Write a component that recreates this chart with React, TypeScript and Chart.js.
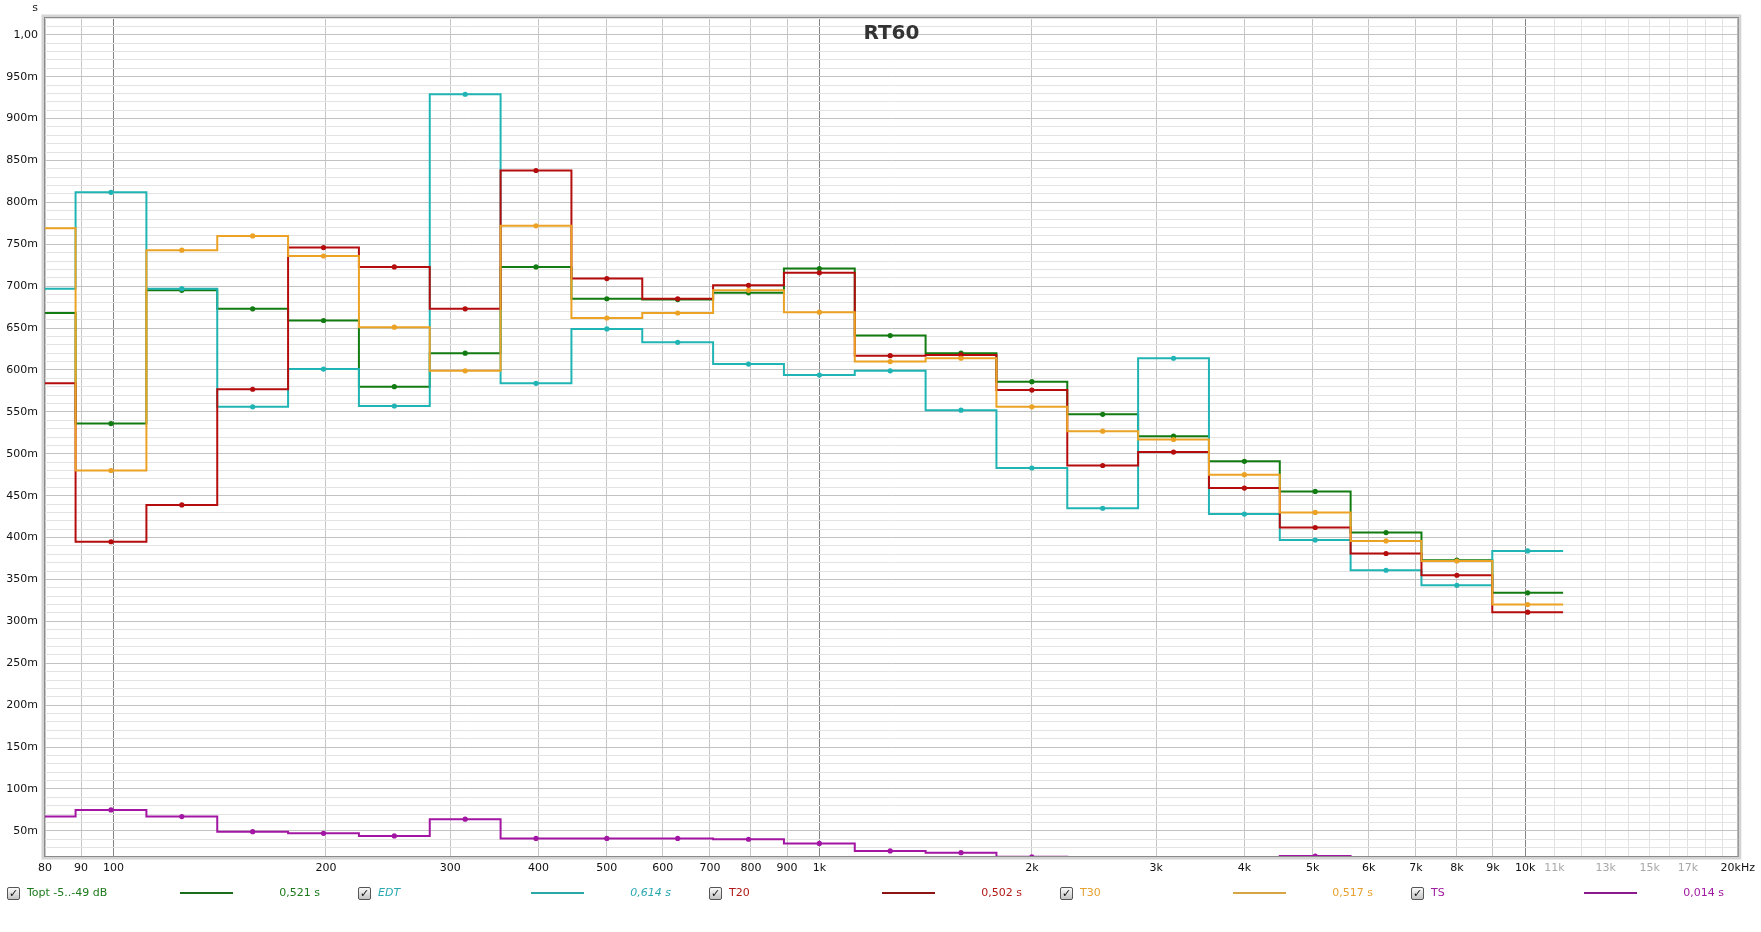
import React, { useEffect, useRef } from "react";
import { Chart, registerables } from "chart.js";
Chart.register(...registerables);

// 1/3-octave band centre frequencies (Hz)
const bandCenters = [78.75, 99.21, 125, 157.49, 198.43, 250, 314.98, 396.85, 500, 629.96, 793.7, 1000, 1259.9, 1587.4, 2000, 2519.8, 3174.8, 4000, 5039.7, 6349.6, 8000, 10079];

// RT60 values (s) per band
const toptValues = [0.668, 0.536, 0.695, 0.673, 0.659, 0.580, 0.620, 0.723, 0.685, 0.684, 0.692, 0.721, 0.641, 0.620, 0.586, 0.547, 0.521, 0.491, 0.455, 0.406, 0.373, 0.334];
const edtValues = [0.697, 0.812, 0.697, 0.556, 0.601, 0.557, 0.929, 0.584, 0.649, 0.633, 0.607, 0.594, 0.599, 0.552, 0.483, 0.435, 0.614, 0.428, 0.397, 0.361, 0.343, 0.384];
const t20Values = [0.584, 0.395, 0.439, 0.577, 0.746, 0.723, 0.673, 0.838, 0.709, 0.685, 0.701, 0.716, 0.617, 0.618, 0.576, 0.486, 0.502, 0.459, 0.412, 0.381, 0.355, 0.311];
const t30Values = [0.769, 0.480, 0.743, 0.760, 0.736, 0.651, 0.599, 0.772, 0.662, 0.668, 0.695, 0.669, 0.610, 0.614, 0.556, 0.527, 0.517, 0.475, 0.430, 0.396, 0.372, 0.320];
const tsValues = [0.067, 0.075, 0.067, 0.049, 0.047, 0.044, 0.064, 0.041, 0.041, 0.041, 0.040, 0.035, 0.026, 0.024, 0.019, 0.012, 0.010, 0.014, 0.020, 0.012, 0.010, 0.008];

// axis ticks
const xTickValues = [80, 90, 100, 200, 300, 400, 500, 600, 700, 800, 900, 1000, 2000, 3000, 4000, 5000, 6000, 7000, 8000, 9000, 10000, 11000, 12000, 13000, 14000, 15000, 16000, 17000, 18000, 19000, 20000];
const xTickLabels = ["80", "90", "100", "200", "300", "400", "500", "600", "700", "800", "900", "1k", "2k", "3k", "4k", "5k", "6k", "7k", "8k", "9k", "10k", "11k", "", "13k", "", "15k", "", "17k", "", "", "20kHz"];
const yMinMs = 20;
const yMaxMs = 1020;

// legend
const legendLabels = ["Topt -5..-49 dB", "EDT", "T20", "T30", "TS"];
const legendValues = ["0,521 s", "0,614 s", "0,502 s", "0,517 s", "0,014 s"];
const legendItalic = [false, true, false, false, false];
const seriesColors = ["#127c12", "#20b4b4", "#b50d0d", "#eba225", "#a316a3"];
const legendTextColors = ["#1c7a1c", "#2aa8b0", "#b01818", "#e8a030", "#a01aa0"];
const legendLineColors = ["#1a6e1a", "#2aa6a6", "#8e1414", "#d6a440", "#8c1a8c"];

const FONT = "'DejaVu Sans', Verdana, sans-serif";

function stepPoints(vals: number[]) {
  const pts: { x: number; y: number }[] = [];
  const n = bandCenters.length;
  vals.forEach((v, i) => {
    const c = bandCenters[i];
    const lo = i > 0 ? Math.sqrt(bandCenters[i - 1] * c) : c / Math.sqrt(bandCenters[1] / bandCenters[0]);
    const hi = i < n - 1 ? Math.sqrt(bandCenters[i + 1] * c) : c * Math.sqrt(bandCenters[n - 1] / bandCenters[n - 2]);
    pts.push({ x: lo, y: v }, { x: c, y: v }, { x: hi, y: v });
  });
  return pts;
}

const framePlugin = {
  id: "frame",
  afterDraw(chart: any) {
    const { ctx, chartArea: a } = chart;
    ctx.save();
    ctx.strokeStyle = "#d4d4d4";
    ctx.lineWidth = 3;
    ctx.strokeRect(a.left - 2, a.top - 2, a.right - a.left + 4, a.bottom - a.top + 4);
    ctx.strokeStyle = "#8a8a8a";
    ctx.lineWidth = 1;
    ctx.strokeRect(a.left - 0.5, a.top - 0.5, a.right - a.left + 1, a.bottom - a.top + 1);
    ctx.fillStyle = "#333";
    ctx.font = `bold 20px ${FONT}`;
    ctx.textAlign = "center";
    ctx.textBaseline = "middle";
    ctx.fillText("RT60", (a.left + a.right) / 2, a.top + 16);
    ctx.font = `11px ${FONT}`;
    ctx.fillStyle = "#222";
    ctx.fillText("s", 35, 8);
    ctx.restore();
  },
};

export default function App() {
  const ref = useRef<HTMLCanvasElement>(null);
  useEffect(() => {
    const canvas = ref.current!;
    const series = [
      { label: "Topt", vals: toptValues, order: 5 },
      { label: "EDT", vals: edtValues, order: 4 },
      { label: "T20", vals: t20Values, order: 3 },
      { label: "T30", vals: t30Values, order: 2 },
      { label: "TS", vals: tsValues, order: 1 },
    ];
    const chart = new Chart(canvas, {
      type: "line",
      data: {
        datasets: series.map((s, i) => ({
          label: s.label,
          data: stepPoints(s.vals),
          borderColor: seriesColors[i],
          backgroundColor: seriesColors[i],
          borderWidth: 2,
          pointRadius: (c: any) => (c.dataIndex % 3 === 1 ? 2.6 : 0),
          pointBorderWidth: 0,
          pointBackgroundColor: seriesColors[i],
          tension: 0,
          fill: false,
          clip: 0,
          order: s.order,
        })),
      },
      options: {
        animation: false,
        responsive: false,
        events: [],
        layout: { padding: { left: 0, right: 22, top: 18, bottom: 56 } },
        plugins: { legend: { display: false }, tooltip: { enabled: false }, title: { display: false } },
        scales: {
          x: {
            type: "logarithmic",
            min: 80,
            max: 20000,
            afterBuildTicks: (s: any) => {
              s.ticks = xTickValues.map((value) => ({ value }));
            },
            afterFit: (s: any) => {
              s.height = 20;
            },
            ticks: {
              autoSkip: false,
              maxRotation: 0,
              minRotation: 0,
              padding: 6,
              font: { family: FONT, size: 11 },
              color: (c: any) => {
                const v = c.tick ? c.tick.value : 0;
                return v > 10000 && v < 20000 ? "#a8a8a8" : "#111";
              },
              callback: (value: any) => {
                const idx = xTickValues.indexOf(Number(value));
                return idx >= 0 ? xTickLabels[idx] : "";
              },
            },
            grid: {
              drawTicks: false,
              lineWidth: 1,
              color: (c: any) => {
                const v = c.tick ? c.tick.value : 0;
                if (v === 100 || v === 1000 || v === 10000) return "#858585";
                if (v > 10000 && v < 20000) return "#e2e2e2";
                return "#c6c6c6";
              },
            },
            border: { display: false },
          },
          y: {
            type: "linear",
            min: yMinMs / 1000,
            max: yMaxMs / 1000,
            afterBuildTicks: (s: any) => {
              const t: { value: number }[] = [];
              for (let ms = yMinMs; ms <= yMaxMs; ms += 10) t.push({ value: ms / 1000 });
              s.ticks = t;
            },
            afterFit: (s: any) => {
              s.width = 45;
            },
            ticks: {
              autoSkip: false,
              padding: 7,
              font: { family: FONT, size: 11 },
              color: "#111",
              callback: (value: any) => {
                const ms = Math.round(Number(value) * 1000);
                if (ms % 50 !== 0) return "";
                if (ms === 1000) return "1,00";
                return ms + "m";
              },
            },
            grid: {
              drawTicks: false,
              lineWidth: 1,
              color: (c: any) => {
                const ms = c.tick ? Math.round(c.tick.value * 1000) : 0;
                return ms % 50 === 0 ? "#c2c2c2" : "#e3e3e3";
              },
            },
            border: { display: false },
          },
        },
      } as any,
      plugins: [framePlugin],
    });
    return () => chart.destroy();
  }, []);

  return (
    <div style={{ position: "fixed", left: 0, top: 0, width: 1761, height: 932, background: "#fff", overflow: "hidden", fontFamily: FONT }}>
      <canvas ref={ref} width={1761} height={932} style={{ position: "absolute", left: 0, top: 0, width: 1761, height: 932 }} />
      {legendLabels.map((lab, i) => {
        const x0 = 7 + 351 * i;
        return (
          <div key={lab} style={{ position: "absolute", left: x0, top: 886, height: 16, width: 340, fontSize: 11 }}>
            <span
              style={{
                position: "absolute",
                left: 0,
                top: 1,
                width: 11,
                height: 11,
                border: "1px solid #555",
                borderRadius: 2,
                background: "linear-gradient(#fafafa, #c4c4c4)",
                fontSize: 11,
                lineHeight: "11px",
                textAlign: "center",
                fontWeight: "bold",
                color: "#111",
              }}
            >
              ✓
            </span>
            <span style={{ position: "absolute", left: 20, top: 0, lineHeight: "14px", color: legendTextColors[i], fontStyle: legendItalic[i] ? "italic" : "normal", whiteSpace: "nowrap" }}>
              {lab}
            </span>
            <span style={{ position: "absolute", left: 173, top: 6, width: 53, height: 2, background: legendLineColors[i] }} />
            <span style={{ position: "absolute", right: 27, top: 0, lineHeight: "14px", color: legendTextColors[i], fontStyle: legendItalic[i] ? "italic" : "normal", whiteSpace: "nowrap" }}>
              {legendValues[i]}
            </span>
          </div>
        );
      })}
    </div>
  );
}
